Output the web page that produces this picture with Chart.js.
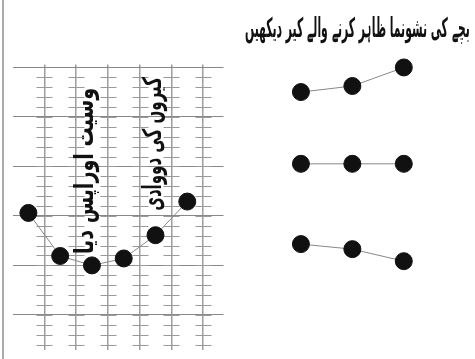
<!DOCTYPE html>
<html>
<head>
<meta charset="utf-8">
<script src="https://cdn.jsdelivr.net/npm/chart.js@4/dist/chart.umd.min.js"></script>
<style>
  html, body { margin: 0; padding: 0; background: #fff; }
  #wrap { position: relative; width: 475px; height: 359px; overflow: hidden; font-family: "DejaVu Sans", sans-serif; }
  #border { position: absolute; left: 2px; top: 0; width: 2px; height: 359px; background: #aaa; }
  #leftChart { position: absolute; left: 3px; top: 55px; }
  #rightChart { position: absolute; left: 240px; top: 0; }
  .title { position: absolute; right: 5px; top: 12px; font-size: 27px; font-weight: bold; color: #111; direction: rtl;
           white-space: nowrap; transform-origin: right center; }
  .vtext { position: absolute; font-size: 26px; font-weight: bold; color: #111; direction: rtl; white-space: nowrap;
           transform-origin: center center; }
</style>
</head>
<body>
<div id="wrap">
  <div id="border"></div>
  <canvas id="leftChart" width="230" height="304"></canvas>
  <canvas id="rightChart" width="235" height="359"></canvas>
  <div class="title" id="title"></div>
  <div class="vtext" id="v1"></div>
  <div class="vtext" id="v2"></div>
</div>
<script>
// texts
const titleText = 'بچے کی نشونما ظاہر کرنے والے کیر دیکھیں';
const sideTexts = ['وسیت اوراپس دیا', 'کیروں کی دووادی'];

// left growth chart: one point per column gap
const months = [0.5, 1.5, 2.5, 3.5, 4.5, 5.5];
const growth = [2.06, 1.19, 1.0, 1.14, 1.61, 2.29];
const columnLines = [1, 2, 3, 4, 5, 6];
const rowLines = [0, 1, 2, 3, 4, 5];

// right: three example curves
const steps = [1, 2, 3];
const rising = [3.43, 3.55, 3.92];
const flat = [2, 2, 2];
const falling = [0.40, 0.30, 0.06];

const title = document.getElementById('title');
title.textContent = titleText;
title.style.transform = 'scaleX(' + (225 / title.offsetWidth) + ')';

function placeVertical(id, text, cx, cy, len) {
  const el = document.getElementById(id);
  el.textContent = text;
  const w = el.offsetWidth, h = el.offsetHeight;
  el.style.left = (cx - w / 2) + 'px';
  el.style.top = (cy - h / 2) + 'px';
  el.style.transform = 'rotate(-90deg) scaleX(' + (len / w) + ')';
}
placeVertical('v1', sideTexts[0], 84, 171, 166);
placeVertical('v2', sideTexts[1], 152, 144, 134);

// small ruler marks along each column line
const rulerTicks = {
  id: 'rulerTicks',
  beforeDatasetsDraw(chart) {
    const { ctx, scales: { x, y } } = chart;
    ctx.save();
    ctx.strokeStyle = '#999';
    ctx.lineWidth = 1;
    columnLines.forEach(c => {
      const px = Math.round(x.getPixelForValue(c)) + 0.5;
      for (let v = 4.8; v > -0.8; v -= 0.2) {
        const py = Math.round(y.getPixelForValue(v)) + 0.5;
        ctx.beginPath();
        ctx.moveTo(px - 8, py);
        ctx.lineTo(px + 8, py);
        ctx.stroke();
      }
    });
    ctx.restore();
  }
};

const dot = {
  pointRadius: 8.5,
  pointHoverRadius: 8.5,
  pointBackgroundColor: '#111',
  pointBorderColor: '#111',
  borderColor: '#888',
  borderWidth: 1,
  tension: 0
};

new Chart(document.getElementById('leftChart'), {
  type: 'line',
  data: {
    datasets: [{ data: months.map((m, i) => ({ x: m, y: growth[i] })), ...dot }]
  },
  options: {
    responsive: false,
    animation: false,
    layout: { padding: 0 },
    plugins: { legend: { display: false }, tooltip: { enabled: false } },
    scales: {
      x: {
        type: 'linear', min: 0, max: 6.64,
        afterBuildTicks: s => { s.ticks = columnLines.map(v => ({ value: v })); },
        ticks: { display: false },
        border: { display: false },
        grid: { color: '#a39c9c', lineWidth: 1.5, drawTicks: false }
      },
      y: {
        min: -0.7, max: 5.06,
        afterBuildTicks: s => { s.ticks = rowLines.map(v => ({ value: v })); },
        ticks: { display: false },
        border: { display: false },
        grid: { color: '#888', lineWidth: 1, drawTicks: false }
      }
    }
  },
  plugins: [rulerTicks]
});

new Chart(document.getElementById('rightChart'), {
  type: 'line',
  data: {
    datasets: [rising, flat, falling].map(s => ({
      data: steps.map((t, i) => ({ x: t, y: s[i] })), ...dot
    }))
  },
  options: {
    responsive: false,
    animation: false,
    layout: { padding: 0 },
    plugins: { legend: { display: false }, tooltip: { enabled: false } },
    scales: {
      x: { type: 'linear', min: 0, max: 4.2, display: false },
      y: { min: -1.7, max: 5.075, display: false }
    }
  }
});
</script>
</body>
</html>
